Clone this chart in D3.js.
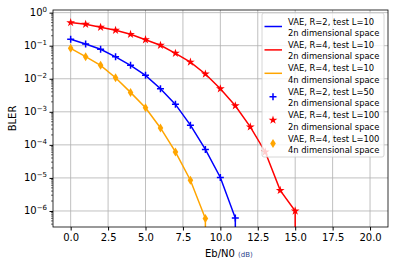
<!DOCTYPE html>
<html>
<head>
<meta charset="utf-8">
<script src="https://cdn.jsdelivr.net/npm/d3@7"></script>
<style>
body { margin: 0; background: #fff; }
text { font-family: "DejaVu Sans", sans-serif; }
</style>
</head>
<body>
<div class="graphContainer"></div>
<script>
const w = 394;
const h = 265;
const m = {left: 53, right: 6, top: 10, bottom: 38};

// Eb/N0 points
const xs = [0, 1, 2, 3, 4, 5, 6, 7, 8, 9, 10, 11, 12, 13, 14, 15];

// BLER values
const blueR2 = [0.156, 0.113, 0.078, 0.046, 0.0255, 0.0127, 0.005, 0.00168, 0.000395, 7.3e-5, 1.03e-5, 6.1e-7];
const redR4 = [0.50, 0.445, 0.361, 0.293, 0.221, 0.152, 0.103, 0.0589, 0.032, 0.0139, 0.00498, 0.00152, 0.00035, 6.1e-5, 4.2e-6, 1.0e-6];
const orangeR4 = [0.0834, 0.0464, 0.0255, 0.0107, 0.00387, 0.00132, 0.000325, 6.1e-5, 8.5e-6, 5.9e-7];

const xTicks = [0, 2.5, 5, 7.5, 10, 12.5, 15, 17.5, 20];
const yTicks = [1, 1e-1, 1e-2, 1e-3, 1e-4, 1e-5, 1e-6];
const sups = ["0", "\u22121", "\u22122", "\u22123", "\u22124", "\u22125", "\u22126"];

const legendLabels = [
	["VAE, R=2, test L=10", "2n dimensional space"],
	["VAE, R=4, test L=10", "2n dimensional space"],
	["VAE, R=4, test L=10", "4n dimensional space"],
	["VAE, R=2, test L=50", "2n dimensional space"],
	["VAE, R=4, test L=100", "2n dimensional space"],
	["VAE, R=4, test L=100", "4n dimensional space"]
];

const cBlue = "#0000ff", cRed = "#ff0000", cOrange = "#ffa500";

const svg = d3.select(".graphContainer").append("svg")
	.attr("width", w).attr("height", h);

const x = d3.scaleLinear().domain([-1.18, 21.2]).range([m.left, w - m.right]);
const y = d3.scaleLog().domain([Math.pow(10, 0.08), Math.pow(10, -6.485)]).range([m.top, h - m.bottom]);

//gridlines
const grid = svg.append("g");
xTicks.forEach(t => grid.append("line")
	.attr("x1", x(t)).attr("x2", x(t)).attr("y1", m.top).attr("y2", h - m.bottom)
	.attr("stroke", "#b0b0b0").attr("stroke-width", 0.8));
yTicks.forEach(t => grid.append("line")
	.attr("x1", m.left).attr("x2", w - m.right).attr("y1", y(t)).attr("y2", y(t))
	.attr("stroke", "#b0b0b0").attr("stroke-width", 0.8));

svg.append("clipPath").attr("id", "clip").append("rect")
	.attr("x", m.left).attr("y", m.top)
	.attr("width", w - m.left - m.right).attr("height", h - m.top - m.bottom);

const plot = svg.append("g").attr("clip-path", "url(#clip)");

// a zero follows the last point, so the curve drops straight down
const line = d3.line()
	.x(d => x(d[0]))
	.y(d => d[1] > 0 ? y(d[1]) : y(1e-300));

function pts(vals) {
	const p = vals.map((v, i) => [xs[i], v]);
	p.push([xs[vals.length - 1] + 1, 0]);
	return p;
}

[[blueR2, cBlue], [redR4, cRed], [orangeR4, cOrange]].forEach(([vals, c]) => {
	plot.append("path").attr("d", line(pts(vals)))
		.attr("fill", "none").attr("stroke", c).attr("stroke-width", 1.5);
});

const star = d3.symbol().type(d3.symbolStar).size(24);
const diamond = "M0,-4.5L2.8,0L0,4.5L-2.8,0Z";

function marker(g, kind, c) {
	if (kind === "plus") {
		g.append("path").attr("d", "M-3.5,0H3.5M0,-3.5V3.5").attr("stroke", c).attr("stroke-width", 1.5);
	} else if (kind === "star") {
		g.append("path").attr("d", star()).attr("fill", c);
	} else {
		g.append("path").attr("d", diamond).attr("fill", c);
	}
}

[[blueR2, "plus", cBlue], [redR4, "star", cRed], [orangeR4, "diamond", cOrange]].forEach(([vals, k, c]) => {
	vals.forEach((v, i) => {
		const g = plot.append("g").attr("transform", `translate(${x(xs[i])},${y(v)})`);
		marker(g, k, c);
	});
});

//axes
const xAxis = svg.append("g").attr("transform", `translate(0,${h - m.bottom})`)
	.call(d3.axisBottom(x).tickValues(xTicks).tickFormat(d3.format(".1f")).tickSize(3.5).tickPadding(3.5));
xAxis.select(".domain").remove();
xAxis.selectAll("text").attr("font-size", 10).attr("fill", "#000").attr("font-family", "DejaVu Sans");

const yAxis = svg.append("g").attr("transform", `translate(${m.left},0)`)
	.call(d3.axisLeft(y).tickValues(yTicks).tickFormat("").tickSize(3.5));
yAxis.select(".domain").remove();

// minor ticks on the log axis
const minor = [];
for (let e = -7; e <= 0; e++) for (let k = 2; k <= 9; k++) {
	const v = k * Math.pow(10, e);
	if (v <= y.domain()[0] && v >= y.domain()[1]) minor.push(v);
}
svg.append("g").selectAll("line").data(minor).enter().append("line")
	.attr("x1", m.left - 2).attr("x2", m.left)
	.attr("y1", d => y(d)).attr("y2", d => y(d))
	.attr("stroke", "#000").attr("stroke-width", 0.6);

const yl = svg.append("g");
yTicks.forEach((t, i) => {
	const tx = yl.append("text").attr("x", m.left - 6).attr("y", y(t) + 3.5)
		.attr("text-anchor", "end").attr("font-size", 10);
	tx.append("tspan").text("10");
	tx.append("tspan").attr("dy", -4).attr("font-size", 7).text(sups[i]);
});

svg.append("rect").attr("x", m.left).attr("y", m.top)
	.attr("width", w - m.left - m.right).attr("height", h - m.top - m.bottom)
	.attr("fill", "none").attr("stroke", "#000").attr("stroke-width", 0.8);

//axis labels
const xl = svg.append("text").attr("x", 205).attr("y", 257).attr("text-anchor", "start").attr("font-size", 10);
xl.append("tspan").text("Eb/N0 ");
xl.append("tspan").attr("font-size", 7).attr("fill", "#2b3f8c").text("(dB)");

svg.append("text").attr("transform", `translate(16,${(m.top + h - m.bottom) / 2}) rotate(-90)`)
	.attr("text-anchor", "middle").attr("font-size", 10).text("BLER");

//legend
const lg = svg.append("g");
lg.append("rect").attr("x", 262).attr("y", 13).attr("width", 122).attr("height", 144)
	.attr("rx", 2).attr("fill", "#fff").attr("fill-opacity", 0.8)
	.attr("stroke", "#cccccc").attr("stroke-width", 0.8);

const handles = [["line", cBlue], ["line", cRed], ["line", cOrange], ["plus", cBlue], ["star", cRed], ["diamond", cOrange]];
legendLabels.forEach((lab, i) => {
	const cy = 26.5 + i * 23.4;
	const [k, c] = handles[i];
	if (k === "line") {
		lg.append("line").attr("x1", 264.5).attr("x2", 282).attr("y1", cy).attr("y2", cy)
			.attr("stroke", c).attr("stroke-width", 1.5);
	} else {
		marker(lg.append("g").attr("transform", `translate(273,${cy})`), k, c);
	}
	lg.append("text").attr("x", 288).attr("y", cy - 2).attr("font-size", 8.4).text(lab[0]);
	lg.append("text").attr("x", 288).attr("y", cy + 9.4).attr("font-size", 8.4).text(lab[1]);
});
</script>
</body>
</html>
